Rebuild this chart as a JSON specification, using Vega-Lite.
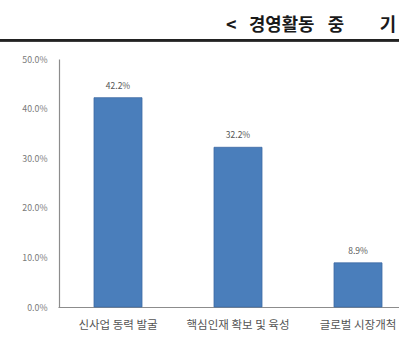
{
  "$schema": "https://vega.github.io/schema/vega-lite/v6.json",
  "width": 399,
  "height": 248,
  "autosize": {"type": "none"},
  "padding": {"left": 0, "top": 59, "right": 0, "bottom": 35},
  "background": "white",
  "config": {"view": {"stroke": null}, "font": "Noto Sans CJK KR"},
  "title": {
    "text": "<\u2002\u2009경영활동\u2002\u2005중\u2003\u2003기",
    "anchor": "start",
    "frame": "group",
    "dx": 226,
    "offset": 26,
    "dy": 22,
    "fontSize": 17.8,
    "font": "Noto Sans CJK KR",
    "fontWeight": "bold",
    "color": "#1a1a1a"
  },
  "data": {
    "values": [
      {"category": "신사업 동력 발굴", "value": 0.422},
      {"category": "핵심인재 확보 및 육성", "value": 0.322},
      {"category": "글로벌 시장개척", "value": 0.089}
    ]
  },
  "layer": [
    {
      "mark": {"type": "bar", "color": "#4a7ebb", "stroke": "#3d6aa3", "strokeWidth": 0.8},
      "encoding": {
        "x": {
          "field": "category",
          "type": "nominal",
          "sort": null,
          "scale": {"range": [58, 418], "paddingInner": 0.6, "paddingOuter": 0.3},
          "axis": {
            "title": null,
            "labelAngle": 0,
            "labelFontSize": 11.5,
            "labelColor": "#555555",
            "labelPadding": 12,
            "ticks": false,
            "domainColor": "#8c8c8c",
            "domainWidth": 1.2,
            "labelOverlap": false,
            "labelLimit": 0
          }
        },
        "y": {
          "field": "value",
          "type": "quantitative",
          "scale": {"domain": [0, 0.5]},
          "axis": {
            "title": null,
            "format": ".1%",
            "values": [0, 0.1, 0.2, 0.3, 0.4, 0.5],
            "offset": -59,
            "ticks": false,
            "grid": false,
            "labelFontSize": 8.8,
            "labelColor": "#7a7a7a",
            "labelPadding": 12,
            "domainColor": "#8c8c8c",
            "domainWidth": 1.2
          }
        }
      }
    },
    {
      "mark": {"type": "text", "dy": -12, "fontSize": 8.5, "color": "#555555"},
      "encoding": {
        "x": {"field": "category", "type": "nominal", "sort": null},
        "y": {"field": "value", "type": "quantitative"},
        "text": {"field": "value", "type": "quantitative", "format": ".1%"}
      }
    },
    {
      "mark": {"type": "rule", "color": "#222222", "strokeWidth": 2.5, "clip": false},
      "encoding": {"y": {"datum": 0.538}}
    }
  ]
}
